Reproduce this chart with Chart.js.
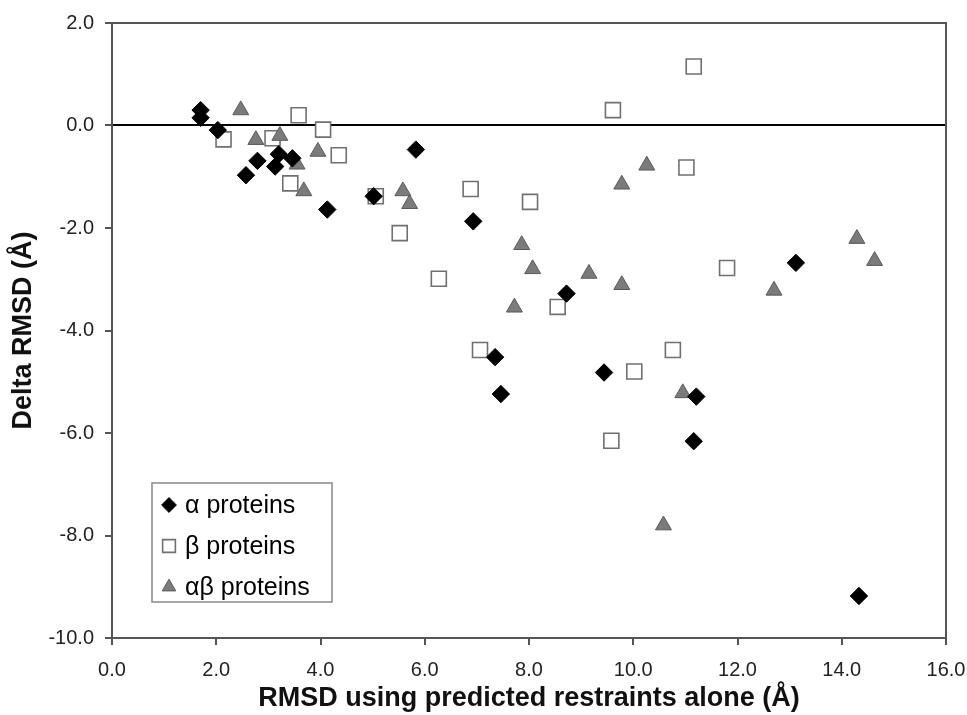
<!DOCTYPE html>
<html>
<head>
<meta charset="utf-8">
<script src="https://cdn.jsdelivr.net/npm/chart.js@4/dist/chart.umd.min.js"></script>
<style>
  body { margin: 0; background: #fff; }
  #graphe { display: block; }
</style>
</head>
<body>
<canvas id="graphe" width="967" height="715"></canvas>
<script>
// values
const alphaX = [1.70, 1.70, 2.03, 2.57, 2.79, 3.13, 3.20, 3.46, 4.13, 5.02, 5.83, 6.93, 7.35, 7.46, 8.72, 9.44, 11.16, 11.21, 13.12, 14.33]
const alphaY = [0.30, 0.15, -0.09, -0.97, -0.69, -0.80, -0.56, -0.64, -1.64, -1.38, -0.47, -1.87, -4.52, -5.24, -3.28, -4.82, -6.16, -5.29, -2.68, -9.18]

const betaX = [2.14, 3.08, 3.42, 3.58, 4.05, 4.35, 5.06, 5.52, 6.27, 6.88, 7.06, 8.02, 8.55, 9.58, 9.61, 10.02, 10.76, 11.02, 11.16, 11.80]
const betaY = [-0.27, -0.25, -1.13, 0.20, -0.08, -0.58, -1.38, -2.10, -2.99, -1.24, -4.38, -1.49, -3.54, -6.15, 0.30, -4.80, -4.38, -0.82, 1.15, -2.78]

const abX = [2.47, 2.76, 3.22, 3.55, 3.68, 3.95, 5.58, 5.71, 7.72, 7.86, 8.07, 9.15, 9.78, 9.78, 10.26, 10.58, 10.95, 12.70, 14.29, 14.63]
const abY = [0.30, -0.28, -0.20, -0.76, -1.28, -0.51, -1.28, -1.53, -3.55, -2.33, -2.80, -2.89, -1.15, -3.11, -0.78, -7.80, -5.22, -3.22, -2.21, -2.64]

const seriesNames = ["α proteins", "β proteins", "αβ proteins"]
const xTitle = "RMSD using predicted restraints alone (Å)"
const yTitle = "Delta RMSD (Å)"
const xMin = 0, xMax = 16, xStep = 2
const yMin = -10, yMax = 2, yStep = 2

function pts(xs, ys) {
    let out = []
    for (let i = 0; i < xs.length; i++) {
        out.push({ x: xs[i], y: ys[i] })
    }
    return out
}

const fontName = "'Liberation Sans', Arial, sans-serif"
const axisGrey = "#555"

// frame on top / right side of the plot
const frame = {
    id: "frame",
    afterDatasetsDraw(chart) {
        const a = chart.chartArea
        const c = chart.ctx
        c.save()
        c.strokeStyle = axisGrey
        c.lineWidth = 2
        c.beginPath()
        c.moveTo(a.left, a.top)
        c.lineTo(a.right, a.top)
        c.lineTo(a.right, a.bottom)
        c.stroke()
        c.restore()
    }
}

function marker(c, style, x, y, r) {
    c.beginPath()
    if (style === "rectRot") {
        c.moveTo(x, y - r); c.lineTo(x + r, y); c.lineTo(x, y + r); c.lineTo(x - r, y)
    } else if (style === "rect") {
        const s = r * Math.SQRT1_2
        c.rect(x - s, y - s, 2 * s, 2 * s)
    } else {
        c.moveTo(x, y - r)
        c.lineTo(x + r * Math.sin(2 * Math.PI / 3), y + r / 2)
        c.lineTo(x - r * Math.sin(2 * Math.PI / 3), y + r / 2)
    }
    c.closePath()
    c.fill()
    c.stroke()
}

// boxed legend inside the plot, lower left
const boxLegend = {
    id: "boxLegend",
    afterDraw(chart) {
        const a = chart.chartArea
        const c = chart.ctx
        const left = a.left + 40, top = a.top + 460, w = 180, h = 119
        c.save()
        c.fillStyle = "#fff"
        c.fillRect(left, top, w, h)
        c.strokeStyle = "#888"
        c.lineWidth = 1.5
        c.strokeRect(left, top, w, h)
        c.font = "25px " + fontName
        c.textBaseline = "middle"
        const legendSet = [0, 1, 2]
        legendSet.forEach((di, k) => {
            const ds = chart.data.datasets[di]
            const cy = top + 22 + k * 41
            c.fillStyle = ds.backgroundColor
            c.strokeStyle = ds.borderColor
            c.lineWidth = ds.borderWidth
            marker(c, ds.pointStyle, left + 17, cy, ds.pointRadius * 0.85)
            c.fillStyle = "#000"
            c.fillText(ds.label, left + 33, cy + 1)
        })
        c.restore()
    }
}

var ctx = document.getElementById("graphe")
var chart = new Chart(ctx, {
    type: "scatter",
    data: {
        datasets: [{
            label: seriesNames[0],
            data: pts(alphaX, alphaY),
            pointStyle: "rectRot",
            pointRadius: 8.7,
            backgroundColor: "#000",
            borderColor: "#000",
            borderWidth: 1,
            order: 0
        }, {
            label: seriesNames[1],
            data: pts(betaX, betaY),
            pointStyle: "rect",
            pointRadius: 10.6,
            backgroundColor: "#fff",
            borderColor: "#707070",
            borderWidth: 1.6,
            order: 2
        }, {
            label: seriesNames[2],
            data: pts(abX, abY),
            pointStyle: "triangle",
            pointRadius: 9.2,
            backgroundColor: "#7b7b7b",
            borderColor: "#5a5a5a",
            borderWidth: 1,
            order: 1
        }]
    },
    options: {
        responsive: false,
        animation: false,
        events: [],
        layout: { padding: { top: 23, right: 21, left: 0, bottom: 0 } },
        plugins: {
            legend: { display: false },
            tooltip: { enabled: false }
        },
        scales: {
            x: {
                type: "linear",
                min: xMin, max: xMax,
                afterFit: (s) => { s.height = 77; s.paddingLeft = 0; s.paddingRight = 0 },
                border: { display: true, color: axisGrey, width: 2 },
                grid: { drawOnChartArea: false, tickLength: 7, tickColor: axisGrey, lineWidth: 2 },
                ticks: {
                    stepSize: xStep,
                    padding: 13,
                    color: "#222",
                    font: { family: fontName, size: 20 },
                    callback: (v) => v.toFixed(1)
                },
                title: {
                    display: true,
                    text: xTitle,
                    color: "#111",
                    font: { family: fontName, size: 27, weight: "bold" },
                    padding: { top: 0, bottom: 0 }
                }
            },
            y: {
                type: "linear",
                min: yMin, max: yMax,
                afterFit: (s) => { s.width = 112; s.paddingTop = 0; s.paddingBottom = 0 },
                border: { display: true, color: axisGrey, width: 2 },
                grid: {
                    color: (c) => c.tick && c.tick.value === 0 ? "#000" : "rgba(0,0,0,0)",
                    lineWidth: 2,
                    tickLength: 7,
                    tickColor: axisGrey
                },
                ticks: {
                    stepSize: yStep,
                    padding: 11,
                    color: "#222",
                    font: { family: fontName, size: 20 },
                    callback: (v) => v.toFixed(1)
                },
                title: {
                    display: true,
                    text: yTitle,
                    color: "#111",
                    font: { family: fontName, size: 27, weight: "bold" },
                    padding: { top: 7, bottom: 0 }
                }
            }
        }
    },
    plugins: [frame, boxLegend]
})
</script>
</body>
</html>
